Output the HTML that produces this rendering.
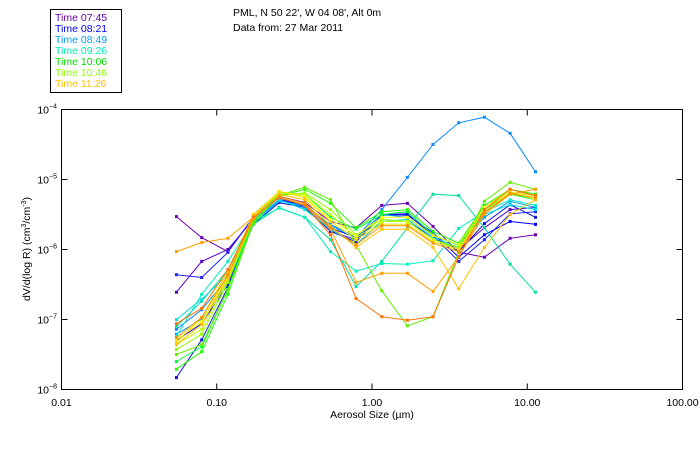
<!DOCTYPE html>
<html><head><meta charset="utf-8"><style>
body{margin:0;background:#fff;width:700px;height:450px;overflow:hidden}
svg{font-family:"Liberation Sans",sans-serif}
</style></head><body>
<svg id="chart" width="700" height="450">
<rect x="50.5" y="9.5" width="71" height="83" fill="#fff" stroke="#000" stroke-width="1"/>
<g id="legend" font-size="10.5"></g>
<text x="233" y="16" font-size="10.5">PML, N 50 22', W 04 08', Alt 0m</text>
<text x="233" y="31" font-size="10.5">Data from: 27 Mar 2011</text>
<rect x="61.5" y="109.5" width="621" height="280" fill="none" stroke="#000" stroke-width="1"/>
<g id="axes" font-size="10.5"></g>
<g id="series"></g>
<text x="372" y="418" font-size="10.5" text-anchor="middle">Aerosol Size (µm)</text>
<text transform="translate(30,249) rotate(-90)" font-size="10.5" text-anchor="middle">dV/d(log R) (cm<tspan font-size="7" dy="-4">3</tspan><tspan dy="4">/cm</tspan><tspan font-size="7" dy="-4">-3</tspan><tspan dy="4">)</tspan></text>
</svg>
<script>
const sizes = [0.055,0.080,0.118,0.172,0.252,0.369,0.540,0.790,1.156,1.69,2.47,3.62,5.30,7.75,11.3];
const xTicks = [0.01,0.1,1,10,100];
const xTickLabels = ["0.01","0.10","1.00","10.00","100.00"];
const yTickExps = [-4,-5,-6,-7,-8];
const legendLabels = ["Time 07:45","Time 08:21","Time 08:49","Time 09:26","Time 10:06","Time 10:46","Time 11:26"];
const legendColors = ["#6a00b0","#0000ff","#0a9cff","#00f0b0","#00e000","#90ff00","#ffc000"];
const seriesColors = ["#6a00b0","#5a00c8","#2020ff","#0000ff","#1010e0","#0a8cff","#00a0ff","#00e0a0","#00f0c0","#00e0e0","#00ff40","#20ff00","#60f000","#90ff00","#c0ff00","#ffff00","#f0e000","#ffc000","#ffa000","#ff7000","#ff9000"];
// log10 of dV/d(log R)
const s1=[-5.53,-5.83,-6.03,-5.54,-5.24,-5.33,-5.6,-5.69,-5.37,-5.34,-5.67,-6.04,-6.11,-5.84,-5.79];
const s2=[-6.61,-6.17,-6.0,-5.57,-5.29,-5.36,-5.71,-5.93,-5.6,-5.6,-5.83,-6.0,-5.69,-5.43,-5.4];
const s3=[-6.36,-6.4,-6.04,-5.54,-5.26,-5.39,-5.74,-5.86,-5.5,-5.49,-5.8,-6.17,-5.86,-5.49,-5.46];
const s4=[-7.3,-7.06,-6.5,-5.6,-5.29,-5.36,-5.69,-5.83,-5.5,-5.51,-5.76,-6.11,-5.79,-5.6,-5.64];
const s5=[-7.83,-7.29,-6.54,-5.64,-5.33,-5.4,-5.74,-5.89,-5.51,-5.5,-5.79,-6.03,-5.63,-5.36,-5.54];
const s6=[-7.14,-6.86,-6.4,-5.6,-5.29,-5.4,-5.64,-5.83,-5.43,-4.97,-4.5,-4.19,-4.11,-4.34,-4.89];
const s7=[-7.21,-7.0,-6.46,-5.63,-5.31,-5.37,-5.66,-5.83,-5.5,-5.54,-5.81,-5.93,-5.54,-5.31,-5.4];
const s8=[-7.1,-6.74,-6.29,-5.64,-5.4,-5.54,-5.86,-6.53,-6.17,-5.69,-5.21,-5.23,-5.69,-6.21,-6.61];
const s9=[-7.24,-6.64,-6.17,-5.6,-5.41,-5.54,-6.03,-6.31,-6.2,-6.21,-6.16,-5.7,-5.46,-5.29,-5.37];
const s10=[-7.0,-6.71,-6.36,-5.57,-5.29,-5.43,-5.71,-5.93,-5.6,-5.57,-5.83,-5.97,-5.5,-5.36,-5.43];
const s11=[-7.6,-7.39,-6.57,-5.57,-5.21,-5.21,-5.54,-5.71,-5.5,-5.46,-5.79,-5.94,-5.43,-5.21,-5.29];
const s12=[-7.71,-7.46,-6.64,-5.61,-5.24,-5.14,-5.34,-5.69,-5.46,-5.43,-5.74,-5.91,-5.37,-5.14,-5.21];
const s13=[-7.5,-7.36,-6.57,-5.63,-5.23,-5.11,-5.29,-5.94,-6.59,-7.09,-6.96,-6.04,-5.31,-5.04,-5.14];
const s14=[-7.43,-7.21,-6.47,-5.57,-5.23,-5.19,-5.43,-5.79,-5.57,-5.6,-5.86,-5.97,-5.46,-5.21,-5.26];
const s15=[-7.36,-7.14,-6.43,-5.54,-5.19,-5.21,-5.5,-5.83,-5.6,-5.6,-5.86,-6.0,-5.43,-5.17,-5.29];
const s16=[-7.29,-7.03,-6.37,-5.51,-5.17,-5.24,-5.57,-5.8,-5.54,-5.54,-5.8,-5.93,-5.4,-5.14,-5.24];
const s17=[-7.33,-6.97,-6.31,-5.5,-5.17,-5.26,-5.6,-5.86,-5.64,-5.64,-5.89,-6.0,-5.46,-5.19,-5.23];
const s18=[-7.36,-7.07,-6.4,-5.51,-5.21,-5.29,-5.66,-5.97,-5.71,-5.71,-5.97,-6.56,-5.97,-5.5,-5.29];
const s19=[-6.03,-5.9,-5.84,-5.54,-5.26,-5.36,-5.71,-6.47,-6.34,-6.34,-6.6,-6.1,-5.5,-5.21,-5.14];
const s20=[-7.06,-6.84,-6.29,-5.54,-5.26,-5.37,-5.79,-6.7,-6.96,-7.01,-6.96,-6.1,-5.43,-5.14,-5.23];
const s21=[-7.26,-6.97,-6.36,-5.56,-5.24,-5.34,-5.69,-5.93,-5.66,-5.66,-5.91,-6.03,-5.47,-5.2,-5.26];
const allSeries=[s1,s2,s3,s4,s5,s6,s7,s8,s9,s10,s11,s12,s13,s14,s15,s16,s17,s18,s19,s20,s21];

const NS="http://www.w3.org/2000/svg";
const X0=61.5,X1=682.5,Y0=109.5,Y1=389.5;
function xScale(v){return X0+(Math.log10(v)+2)/4*(X1-X0);}
function yScale(l){return Y0+(-4-l)/4*(Y1-Y0);}
function mk(tag,attrs,parent){const e=document.createElementNS(NS,tag);for(const k in attrs)e.setAttribute(k,attrs[k]);parent.appendChild(e);return e;}

const axes=document.getElementById('axes');
xTicks.forEach((t,i)=>{
  const x=xScale(t);
  const a=mk('line',{x1:x,x2:x,y1:Y1,y2:Y1-6,stroke:'#000'},axes);
  
  
  const b=mk('line',{x1:x,x2:x,y1:Y0,y2:Y0+6,stroke:'#000'},axes);
  
  
  const t2=mk('text',{x:x,y:406,'text-anchor':'middle'},axes);
  t2.textContent=xTickLabels[i];
  
  
});
yTickExps.forEach(e=>{
  const y=yScale(e);
  const a=mk('line',{x1:X0,x2:X0+6,y1:y,y2:y,stroke:'#000'},axes);
  
  
  const b=mk('line',{x1:X1,x2:X1-6,y1:y,y2:y,stroke:'#000'},axes);
  
  
  const t=mk('text',{x:57,y:y+4,'text-anchor':'end'},axes);
  
  
  t.textContent='10';
  const sp=mk('tspan',{'font-size':'7',dy:'-5'},t);
  sp.textContent=String(e).replace('-','\u2212');
});

const sg=document.getElementById('series');
allSeries.forEach((vals,si)=>{
  const g=mk('g',{},sg);
  
  
  const col=seriesColors[si];
  const pts=vals.map((v,i)=>xScale(sizes[i]).toFixed(1)+','+yScale(v).toFixed(1)).join(' ');
  mk('polyline',{points:pts,fill:'none',stroke:col,'stroke-width':'1'},g);
  vals.forEach((v,i)=>{
    const r=mk('rect',{x:xScale(sizes[i])-1.5,y:yScale(v)-1.5,width:3,height:3,fill:col},g);
    
    
  });
});

const lg=document.getElementById('legend');
legendLabels.forEach((l,i)=>{
  const t=mk('text',{x:55,y:21+i*11,fill:legendColors[i]},lg);
  t.textContent=l;
  
  
});
</script>
</body></html>
